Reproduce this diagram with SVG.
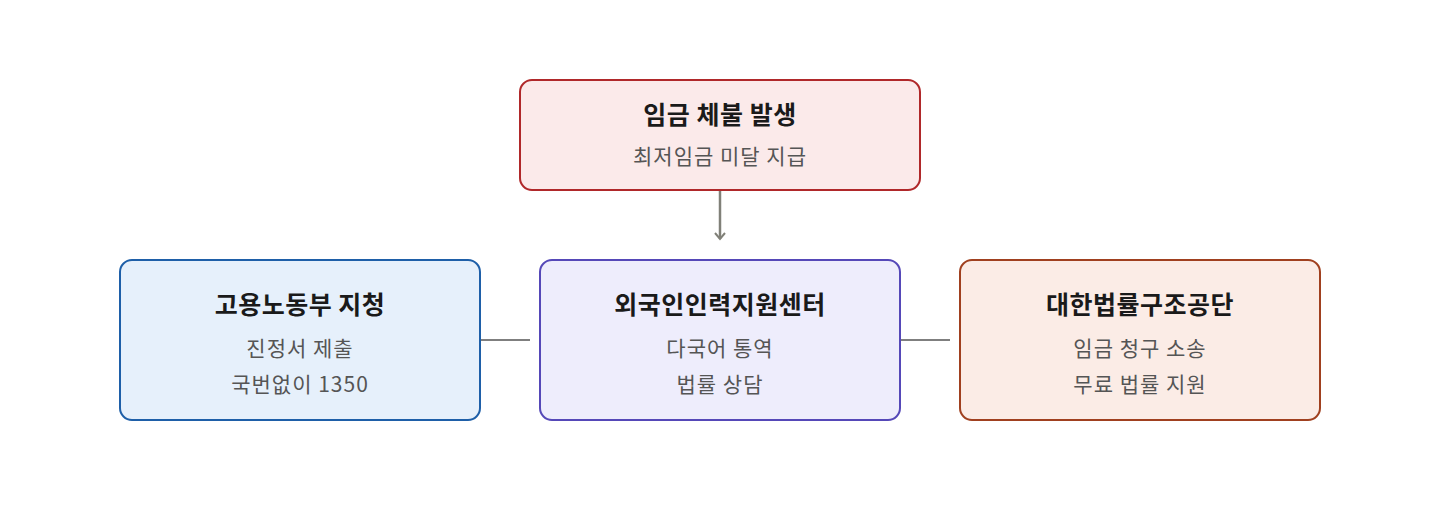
<svg xmlns="http://www.w3.org/2000/svg" width="1440" height="520" viewBox="0 0 1440 520">
<style>
.t{font-family:"Noto Sans CJK KR","Noto Sans",sans-serif;font-size:25px;font-weight:bold;fill:#1a1a1a;text-anchor:middle;letter-spacing:0.5px}
.s{font-family:"Noto Sans CJK KR","Noto Sans",sans-serif;font-size:21px;fill:#555;text-anchor:middle;letter-spacing:1px}
rect{stroke-width:2}
</style>
<defs><marker id="a" markerWidth="12" markerHeight="12" refX="7" refY="6" orient="auto" markerUnits="userSpaceOnUse"><path d="M1,1 L7,6 L1,11" fill="none" stroke="#808078" stroke-width="2"/></marker></defs>
<rect width="1440" height="520" fill="#fff"/>
<g id="connectors">
<line x1="720" y1="190" x2="720" y2="239" stroke="#808078" stroke-width="2.5" marker-end="url(#a)"/>
<line x1="480" y1="340" x2="530" y2="340" stroke="#555" stroke-width="1.5"/>
<line x1="900" y1="340" x2="950" y2="340" stroke="#555" stroke-width="1.5"/>
</g>
<g id="n1"><rect x="520" y="80" width="400" height="110" rx="12" fill="#fbeaea" stroke="#b0282a"/><text class="t" x="720" y="124">임금 체불 발생</text><text class="s" x="720" y="164">최저임금 미달 지급</text></g>
<g id="n2"><rect x="120" y="260" width="360" height="160" rx="12" fill="#e6f0fb" stroke="#1e5fa8"/><text class="t" x="300" y="314">고용노동부 지청</text><text class="s" x="300" y="356">진정서 제출</text><text class="s" x="300" y="392">국번없이 1350</text></g>
<g id="n3"><rect x="540" y="260" width="360" height="160" rx="12" fill="#eeedfc" stroke="#5548b8"/><text class="t" x="720" y="314">외국인인력지원센터</text><text class="s" x="720" y="356">다국어 통역</text><text class="s" x="720" y="392">법률 상담</text></g>
<g id="n4"><rect x="960" y="260" width="360" height="160" rx="12" fill="#fbece6" stroke="#a0401f"/><text class="t" x="1140" y="314">대한법률구조공단</text><text class="s" x="1140" y="356">임금 청구 소송</text><text class="s" x="1140" y="392">무료 법률 지원</text></g>
</svg>
